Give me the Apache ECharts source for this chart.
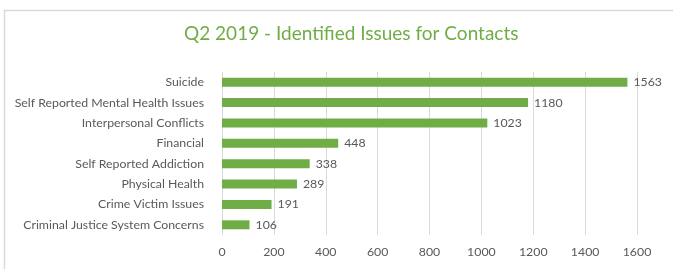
<!DOCTYPE html>
<html>
<head>
    <meta charset="utf-8"/>
    <title>Q2 2019 - Identified Issues for Contacts</title>
    <script src="https://cdn.jsdelivr.net/npm/echarts@6/dist/echarts.min.js"></script>
    <style>
        html, body { margin: 0; padding: 0; background: #fff; }
        #myChart { width: 673px; height: 269px; }
    </style>
</head>
<body>
<div id="myChart"></div>
<script>
    // 数据
    var categories = ['Suicide', 'Self Reported Mental Health Issues', 'Interpersonal Conflicts', 'Financial',
        'Self Reported Addiction', 'Physical Health', 'Crime Victim Issues', 'Criminal Justice System Concerns'];
    var counts = [1563, 1180, 1023, 448, 338, 289, 191, 106];
    var xTicks = [0, 200, 400, 600, 800, 1000, 1200, 1400, 1600];

    var font = 'Lato, "Open Sans", sans-serif';
    var myChart = echarts.init(document.getElementById('myChart'));
    var option = {
        animation: false,
        title: {
            text: 'Q2 2019 - Identified Issues for Contacts',
            left: 179,
            top: 19,
            textStyle: { color: '#70AD47', fontSize: 19, fontWeight: 'normal', fontFamily: font }
        },
        graphic: [{
            type: 'rect',
            shape: { x: 4.5, y: 10.5, width: 700, height: 300 },
            style: { fill: 'none', stroke: '#d9d9d9', lineWidth: 1.5 }
        }],
        grid: { left: 222, right: 36, top: 72, bottom: 34 },
        xAxis: {
            type: 'value',
            min: xTicks[0],
            max: xTicks[xTicks.length - 1],
            interval: 200,
            axisLine: { show: false },
            axisTick: { show: false },
            splitLine: { lineStyle: { color: '#d9d9d9', width: 1 } },
            axisLabel: {
                color: '#595959', fontSize: 12.3, fontFamily: font, margin: 11,
                formatter: function (v) { return String(v); }
            }
        },
        yAxis: {
            type: 'category',
            inverse: true,
            data: categories,
            axisLine: { show: false },
            axisTick: { show: false },
            axisLabel: { color: '#595959', fontSize: 12.3, fontFamily: font, margin: 18 }
        },
        series: [{
            type: 'bar',
            data: counts,
            barWidth: 9,
            itemStyle: { color: '#70AD47' },
            label: {
                show: true,
                position: 'right',
                distance: 6,
                color: '#595959',
                fontSize: 12.3,
                fontFamily: font
            }
        }]
    };
    myChart.setOption(option);
</script>
</body>
</html>
